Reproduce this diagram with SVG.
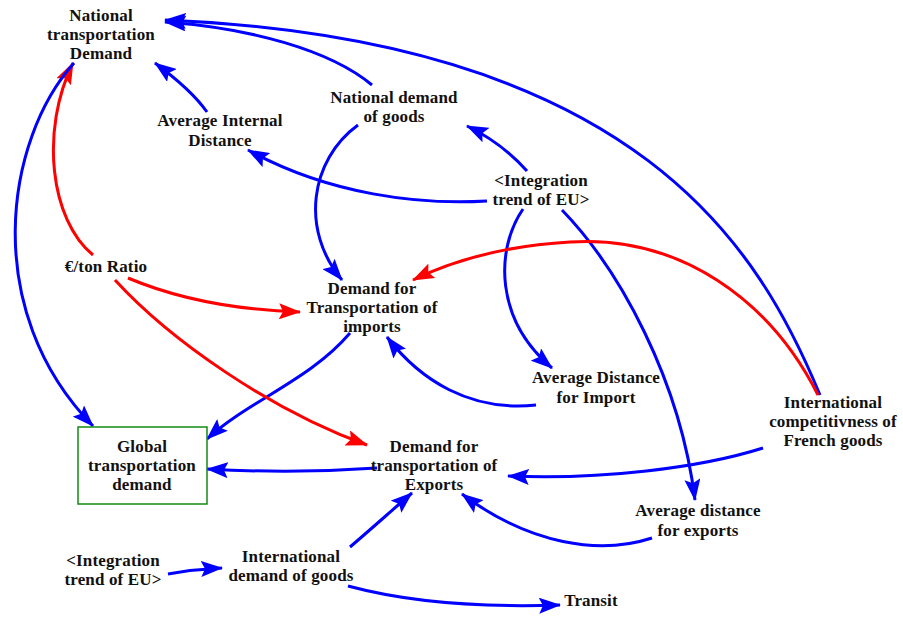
<svg xmlns="http://www.w3.org/2000/svg" width="903" height="618" viewBox="0 0 903 618">
  <style>
    .lbl { font-family: "Liberation Serif", "Times New Roman", serif; font-weight: bold; font-size: 17px; letter-spacing: 0.15px; fill: #111; text-anchor: middle; }
    .pos { fill: none; stroke: #0000ff; stroke-width: 3; marker-end: url(#ab); }
    .neg { fill: none; stroke: #ff0000; stroke-width: 3; marker-end: url(#ar); }
    .box { fill: #fff; stroke: #138a13; stroke-width: 1.5; }
  </style>
  <defs>
    <marker id="ab" viewBox="0 0 22 16" refX="21" refY="8" markerWidth="22" markerHeight="16" markerUnits="userSpaceOnUse" orient="auto">
      <path d="M0,0 L22,8 L0,16 L4,8 Z" fill="#0000ff"/>
    </marker>
    <marker id="ar" viewBox="0 0 22 16" refX="21" refY="8" markerWidth="22" markerHeight="16" markerUnits="userSpaceOnUse" orient="auto">
      <path d="M0,0 L22,8 L0,16 L4,8 Z" fill="#ff0000"/>
    </marker>
  </defs>
  <rect width="903" height="618" fill="#fff"/>

  <g id="connectors">
    <path class="pos" d="M820,395 C760,250 640,40 165,20"/>
    <path class="pos" d="M372,85 C330,50 250,28 165,22"/>
    <path class="pos" d="M207,112 C195,95 178,80 155,63"/>
    <path class="pos" d="M487,201 C420,205 330,195 248,150"/>
    <path class="pos" d="M527,171 C510,152 492,138 467,126"/>
    <path class="pos" d="M358,125 C310,160 300,230 342,280"/>
    <path class="pos" d="M523,209 C495,250 495,320 552,368"/>
    <path class="pos" d="M562,210 C620,270 680,380 695,500"/>
    <path class="neg" d="M818,395 C770,300 680,235 570,242 C500,246 450,262 413,280"/>
    <path class="pos" d="M763,448 C700,468 600,480 508,476"/>
    <path class="pos" d="M652,538 C600,555 530,545 462,494"/>
    <path class="pos" d="M536,405 C470,412 420,380 387,337"/>
    <path class="pos" d="M350,333 C310,380 250,400 207,439"/>
    <path class="neg" d="M128,278 C180,300 240,310 300,312"/>
    <path class="neg" d="M115,280 C170,340 270,410 367,445"/>
    <path class="neg" d="M93,255 C50,220 40,130 73,63"/>
    <path class="pos" d="M74,63 C5,140 -20,310 93,426"/>
    <path class="pos" d="M377,468 C320,472 260,472 207,469"/>
    <path class="pos" d="M350,547 C370,530 390,512 412,493"/>
    <path class="pos" d="M168,574 C185,571 200,569 222,568"/>
    <path class="pos" d="M348,586 C400,600 470,608 560,605"/>
  </g>

  <g id="national-transportation-demand">
    <text class="lbl" x="101" y="21">National<tspan x="101" dy="19">transportation</tspan><tspan x="101" dy="19">Demand</tspan></text>
  </g>
  <g id="average-internal-distance">
    <text class="lbl" x="220" y="126">Average Internal<tspan x="220" dy="20">Distance</tspan></text>
  </g>
  <g id="national-demand-of-goods">
    <text class="lbl" x="394" y="103">National demand<tspan x="394" dy="19">of goods</tspan></text>
  </g>
  <g id="integration-trend-top">
    <text class="lbl" x="541" y="186">&lt;Integration<tspan x="541" dy="19">trend of EU&gt;</tspan></text>
  </g>
  <g id="euro-ton-ratio">
    <text class="lbl" x="106" y="272">€/ton Ratio</text>
  </g>
  <g id="demand-transport-imports">
    <text class="lbl" x="372" y="294">Demand for<tspan x="372" dy="19">Transportation of</tspan><tspan x="372" dy="19">imports</tspan></text>
  </g>
  <g id="average-distance-import">
    <text class="lbl" x="596" y="383">Average Distance<tspan x="596" dy="20">for Import</tspan></text>
  </g>
  <g id="international-competitiveness">
    <text class="lbl" x="833" y="408">International<tspan x="833" dy="19">competitivness of</tspan><tspan x="833" dy="19">French goods</tspan></text>
  </g>
  <g id="global-transportation-demand">
    <rect class="box" x="78" y="427" width="129" height="77"/>
    <text class="lbl" x="142" y="452">Global<tspan x="142" dy="19">transportation</tspan><tspan x="142" dy="19">demand</tspan></text>
  </g>
  <g id="demand-transport-exports">
    <text class="lbl" x="434" y="452">Demand for<tspan x="434" dy="19">transportation of</tspan><tspan x="434" dy="19">Exports</tspan></text>
  </g>
  <g id="average-distance-exports">
    <text class="lbl" x="698" y="516">Average distance<tspan x="698" dy="20">for exports</tspan></text>
  </g>
  <g id="integration-trend-bottom">
    <text class="lbl" x="113" y="566">&lt;Integration<tspan x="113" dy="19">trend of EU&gt;</tspan></text>
  </g>
  <g id="international-demand-of-goods">
    <text class="lbl" x="291" y="562">International<tspan x="291" dy="19">demand of goods</tspan></text>
  </g>
  <g id="transit">
    <text class="lbl" x="591" y="606">Transit</text>
  </g>
</svg>
